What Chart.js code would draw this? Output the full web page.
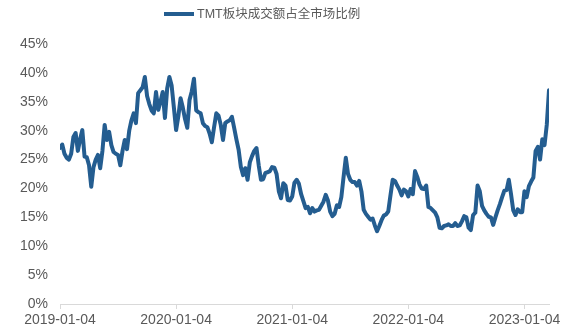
<!DOCTYPE html>
<html>
<head>
<meta charset="utf-8">
<script src="https://cdn.jsdelivr.net/npm/chart.js@4/dist/chart.umd.min.js"></script>
<style>
  html, body { margin: 0; padding: 0; background: #fff; }
  #wrap { width: 581px; height: 332px; }
</style>
</head>
<body>
<div id="wrap"><canvas id="tmt-chart" width="581" height="332"></canvas></div>
<script>
/* Series: weekly TMT share of total market turnover, % */
let seriesName = 'TMT板块成交额占全市场比例'
let shareValues = [
    27.0, 27.6, 26.0, 25.3, 25.0, 26.0, 28.9, 29.6, 26.5, 28.5,
    30.1, 25.5, 25.4, 24.0, 20.3, 23.7, 25.0, 25.8, 23.5, 26.5,
    31.0, 28.4, 29.8, 27.5, 26.3, 26.0, 25.8, 24.0, 26.5, 28.4,
    26.8, 30.0, 31.8, 33.0, 31.3, 36.5, 37.0, 37.5, 39.3, 36.0,
    34.6, 33.5, 33.0, 36.7, 33.6, 35.0, 36.7, 32.2, 37.3, 39.3,
    37.8, 34.0, 30.1, 32.5, 35.6, 34.0, 32.0, 30.5, 35.3, 36.8,
    39.0, 33.5, 33.2, 33.0, 31.3, 30.8, 30.6, 29.5, 28.0, 30.6,
    33.0, 32.6, 31.0, 28.4, 31.3, 31.6, 31.8, 32.4, 30.5, 28.5,
    26.7, 23.7, 22.3, 23.5, 21.5, 24.5, 25.6, 26.5, 27.0, 24.0,
    21.5, 21.6, 22.7, 22.8, 23.0, 23.7, 23.6, 22.5, 19.5, 18.3,
    20.9, 20.5, 18.0, 17.9, 18.6, 21.0, 21.5, 20.8, 19.0, 17.8,
    16.6, 16.8, 15.7, 16.6, 16.0, 16.2, 16.3, 17.0, 17.7, 18.9,
    17.9, 16.0, 15.2, 15.6, 17.1, 16.8, 18.5, 22.0, 25.3, 22.5,
    21.5, 21.1, 21.1, 20.5, 21.3, 19.5, 16.3, 15.6, 15.1, 14.6,
    14.8, 13.6, 12.6, 13.5, 14.5, 15.3, 15.5, 16.0, 18.8, 21.5,
    21.3, 20.5, 19.8, 18.8, 19.8, 19.5, 18.6, 19.9, 19.0, 23.0,
    22.0, 20.7, 20.0, 19.9, 20.5, 16.8, 16.6, 16.2, 15.8, 15.0,
    13.2, 13.1, 13.5, 13.6, 13.8, 13.5, 13.5, 14.0, 13.5, 13.6,
    14.3, 15.2, 15.0, 13.2, 12.8, 15.4, 15.8, 20.5, 19.5, 17.0,
    16.2, 15.6, 15.1, 15.0, 13.7, 15.0, 16.2, 17.3, 18.5, 19.6,
    19.7, 21.5, 19.0, 16.2, 15.4, 16.4, 15.9, 15.9, 19.5, 18.5,
    20.4, 21.2, 21.9, 26.5, 27.2, 25.0, 28.5, 27.5, 31.0, 37.0
]

/* X tick labels and the week index each one sits on */
let dateLabels = ['2019-01-04', '2020-01-04', '2021-01-04', '2022-01-04', '2023-01-04']
let dateIndex = [0, 52, 104, 156, 208]

let lineColor = '#245d90'
let textColor = '#595959'
let fontFamily = 'Arial, "Liberation Sans", "Noto Sans CJK SC", sans-serif'

let points = shareValues.map(function(v, i) { return { x: i, y: v } })

/* Legend drawn by hand so it can sit left of centre */
let legendLine = {
    id: 'legendLine',
    afterDraw: function(chart) {
        let c = chart.ctx
        c.save()
        c.strokeStyle = lineColor
        c.lineWidth = 4
        c.beginPath()
        c.moveTo(164, 14)
        c.lineTo(194, 14)
        c.stroke()
        c.fillStyle = textColor
        c.font = '12.5px ' + fontFamily
        c.textBaseline = 'middle'
        c.textAlign = 'left'
        c.fillText(seriesName, 197, 15)
        c.restore()
    }
}

let ctx = document.querySelector('#tmt-chart').getContext('2d')

let tmtChart = new Chart(ctx, {
    type: 'line',
    data: {
        datasets: [ {
            label: seriesName,
            data: points,
            borderColor: lineColor,
            backgroundColor: lineColor,
            borderWidth: 4,
            pointRadius: 0,
            tension: 0,
            borderJoinStyle: 'round',
            borderCapStyle: 'round'
        } ]
    },
    options: {
        responsive: false,
        animation: false,
        events: [],
        layout: { padding: { top: 44, right: 32, bottom: 0, left: 0 } },
        plugins: {
            legend: { display: false },
            tooltip: { enabled: false }
        },
        scales: {
            x: {
                type: 'linear',
                min: 0,
                max: shareValues.length - 1,
                afterBuildTicks: function(scale) {
                    scale.ticks = dateIndex.map(function(i) { return { value: i } })
                },
                afterFit: function(scale) { scale.height = 28 },
                ticks: {
                    autoSkip: false,
                    maxRotation: 0,
                    padding: 3,
                    color: textColor,
                    font: { family: fontFamily, size: 14 },
                    callback: function(value) {
                        let k = dateIndex.indexOf(value)
                        return k >= 0 ? dateLabels[k] : ''
                    }
                },
                grid: {
                    drawOnChartArea: false,
                    drawTicks: true,
                    tickLength: 5,
                    color: '#d9d9d9'
                },
                border: { display: true, color: '#d9d9d9', width: 1 }
            },
            y: {
                min: 0,
                max: 45,
                afterFit: function(scale) { scale.width = 60 },
                ticks: {
                    stepSize: 5,
                    padding: 12,
                    color: textColor,
                    font: { family: fontFamily, size: 14 },
                    callback: function(value) { return value + '%' }
                },
                grid: { display: false, drawTicks: false },
                border: { display: false }
            }
        }
    },
    plugins: [legendLine]
})
</script>
</body>
</html>
